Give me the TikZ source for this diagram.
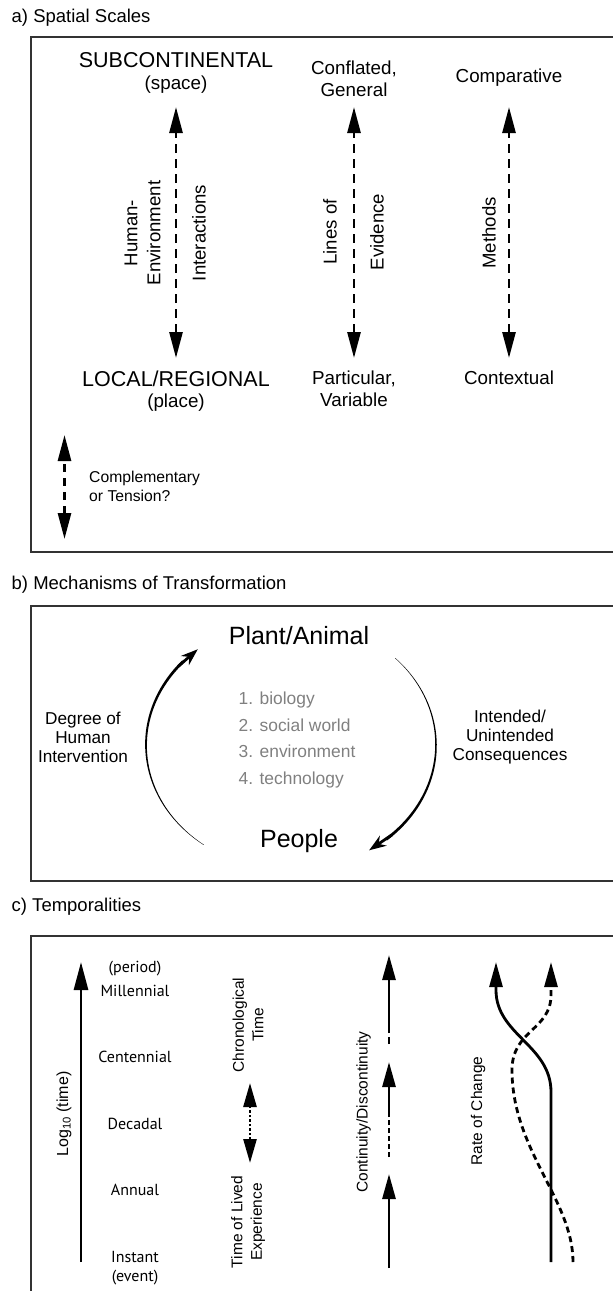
\documentclass[tikz,border=0pt]{standalone}
\usepackage{fontspec}
\setmainfont{Liberation Sans}
\newfontfamily\ptsans{PT Sans}
\usetikzlibrary{arrows.meta}
\newcommand\fsz[2]{\fontsize{#1}{#2}\selectfont}
\begin{document}
\begin{tikzpicture}[x=1pt,y=-1pt,
  panellabel/.style={anchor=west, inner sep=0pt, font=\fsz{18.5}{22}},
  frame/.style={draw=black!80, line width=1.6pt},
  big/.style={inner sep=0pt, font=\fsz{21.5}{24}},
  txt/.style={inner sep=0pt, font=\fsz{18.8}{22}, align=center},
  rot/.style={inner sep=0pt, font=\fsz{18.6}{23}, align=center, rotate=90},
  rotc/.style={inner sep=0pt, font=\fsz{15.5}{19.5}, align=center, rotate=90},
  scalelab/.style={inner sep=0pt, font=\ptsans\fsz{16}{20}},
  dasharrow/.style={line width=2.7pt, dash pattern=on 9pt off 6pt,
     {Triangle[length=26pt,width=13pt]}-{Triangle[length=26pt,width=13pt]}},
  tri/.style={-{Triangle[length=25pt,width=13pt]}},
  thick3/.style={line width=2.8pt},
  graytxt/.style={inner sep=0pt, font=\fsz{17.4}{26.7}, align=left, text=black!50},
  sidetxt/.style={inner sep=0pt, font=\fsz{17.2}{19}, align=center},
]
\useasboundingbox (0,0) rectangle (613,1291);
\clip (0,0) rectangle (613,1291);

% ---------- panel labels and frames
\node[panellabel] (la) at (11.5,18) {a) Spatial Scales};
\node[panellabel] (lb) at (11.5,585) {b) Mechanisms of Transformation};
\node[panellabel] (lc) at (11.5,907) {c) Temporalities};
\draw[frame] (31,37) rectangle (660,552);
\draw[frame] (31,606) rectangle (660,881);
\draw[frame] (31,936) rectangle (660,1320);

% ---------- panel a
\node[big] (sub) at (176,60) {SUBCONTINENTAL};
\node[txt] (space) at (176,85) {(space)};
\node[big] (loc) at (176,379) {LOCAL/REGIONAL};
\node[txt] (place) at (176,403) {(place)};
\node[txt] (conf) at (354,79) {Conflated,\\General};
\node[txt] (part) at (354,389) {Particular,\\Variable};
\node[txt] (comp) at (509,78) {Comparative};
\node[txt] (contx) at (509,378) {Contextual};

\coordinate (a1t) at (176,107); \coordinate (a1b) at (176,358);
\coordinate (a2t) at (354,107); \coordinate (a2b) at (354,358);
\coordinate (a3t) at (509,107); \coordinate (a3b) at (509,358);
\draw[dasharrow] (a1b) -- (a1t);
\draw[dasharrow] (a2b) -- (a2t);
\draw[dasharrow] (a3b) -- (a3t);

\node[rot] (hum) at (142.5,233) {Human-\\Environment};
\node[rot] (inter) at (199,233) {Interactions};
\node[rot] (lines) at (330,232) {Lines of};
\node[rot] (evid) at (377,232) {Evidence};
\node[rot] (meth) at (489,233) {Methods};

\coordinate (legt) at (64.5,435); \coordinate (legb) at (64.5,539);
\draw[dasharrow, dash pattern=on 8pt off 6pt] (legb) -- (legt);
\node[anchor=west, inner sep=0pt, align=left, font=\fsz{15.7}{19}] (legtxt) at (89,486.5) {Complementary\\or Tension?};

% ---------- panel b
\node[inner sep=0pt, font=\fsz{25}{28}] (plant) at (299,636) {Plant/Animal};
\node[inner sep=0pt, font=\fsz{25}{28}] (people) at (299,841) {People};
\node[graytxt, anchor=west] (list) at (238.5,740) {1. biology\\2. social world\\3. environment\\4. technology};
\node[sidetxt] (degree) at (83,737) {Degree of\\Human\\Intervention};
\node[sidetxt] (intend) at (510,737) {Intended/\\Unintended\\Consequences};

% left tapered arc (People -> Plant/Animal)
\fill plot[domain=127:222, samples=50, variable=\t]
  ({291+(145+0.5*(0.3+2.6*(\t-127)/95))*cos(\t)},{745+(125+0.5*(0.3+2.6*(\t-127)/95))*sin(\t)})
  -- plot[domain=222:127, samples=50, variable=\t]
  ({291+(145-0.5*(0.3+2.6*(\t-127)/95))*cos(\t)},{745+(125-0.5*(0.3+2.6*(\t-127)/95))*sin(\t)}) -- cycle;
\coordinate (lArr0) at ({291+145*cos(219)},{745+125*sin(219)});
\coordinate (lArr1) at ({291+145*cos(230)},{745+125*sin(230)});
\draw[line width=2.8pt, -{Stealth[length=17pt,width=12pt]}] (lArr0) -- (lArr1);

% right tapered arc (Plant/Animal -> People)
\fill plot[domain=-44:49, samples=50, variable=\t]
  ({291+(145+0.5*(0.3+2.6*(\t+44)/93))*cos(\t)},{745+(125+0.5*(0.3+2.6*(\t+44)/93))*sin(\t)})
  -- plot[domain=49:-44, samples=50, variable=\t]
  ({291+(145-0.5*(0.3+2.6*(\t+44)/93))*cos(\t)},{745+(125-0.5*(0.3+2.6*(\t+44)/93))*sin(\t)}) -- cycle;
\coordinate (rArr0) at ({291+145*cos(46)},{745+125*sin(46)});
\coordinate (rArr1) at ({291+145*cos(57.4)},{745+125*sin(57.4)});
\draw[line width=2.8pt, -{Stealth[length=17pt,width=12pt]}] (rArr0) -- (rArr1);

% ---------- panel c
\coordinate (logb) at (81,1262); \coordinate (logt) at (81,962);
\draw[thick3, -{Triangle[length=28pt,width=14pt]}] (logb) -- (logt);
\node[inner sep=0pt, font=\fsz{16}{19}, rotate=90] (loglab) at (64,1114) {Log\textsubscript{10} (time)};

\node[scalelab] (per) at (135,969) {(period)};
\node[scalelab] (mil) at (135,991) {Millennial};
\node[scalelab] (cen) at (135,1057) {Centennial};
\node[scalelab] (dec) at (135,1124) {Decadal};
\node[scalelab] (ann) at (135,1190) {Annual};
\node[scalelab] (ins) at (135,1257) {Instant};
\node[scalelab] (evt) at (135,1278) {(event)};

\node[rotc] (chrono) at (248,1025) {Chronological\\Time};
\node[rotc] (lived) at (248,1222) {Time of Lived\\Experience};
\coordinate (dt) at (250,1083); \coordinate (db) at (250,1163);
\draw[line width=2.6pt, dash pattern=on 2.5pt off 2pt,
  {Triangle[length=24pt,width=13pt]}-{Triangle[length=24pt,width=13pt]}] (db) -- (dt);

\node[rotc] (contlab) at (363.5,1112) {Continuity/Discontinuity};
\coordinate (c1b) at (389,1268); \coordinate (c1t) at (389,1174);
\draw[thick3, tri] (c1b) -- (c1t);
\coordinate (c2d) at (389,1157); \coordinate (c2s) at (389,1112); \coordinate (c2t) at (389,1062);
\draw[thick3, dash pattern=on 5pt off 3pt] (c2d) -- (c2s);
\draw[thick3, tri] (c2s) -- (c2t);
\coordinate (c3d) at (389,1044); \coordinate (c3s) at (389,1032); \coordinate (c3t) at (389,955);
\draw[thick3, dash pattern=on 7pt off 4pt] (c3d) -- (c3s);
\draw[thick3, tri] (c3s) -- (c3t);

\node[rotc] (rate) at (478,1111) {Rate of Change};
\coordinate (sb) at (551,1262); \coordinate (st) at (496,962);
\coordinate (qb) at (573,1262); \coordinate (qt) at (551,962);
\draw[thick3, tri] (sb) -- (551,1092) .. controls (551,1045) and (496,1035) .. (496,990) -- (st);
\draw[thick3, dash pattern=on 6pt off 4pt, tri] (qb) .. controls (573,1200) and (512,1150) .. (512,1070)
  .. controls (512,1030) and (551,1030) .. (551,995) -- (qt);
\end{tikzpicture}
\end{document}
